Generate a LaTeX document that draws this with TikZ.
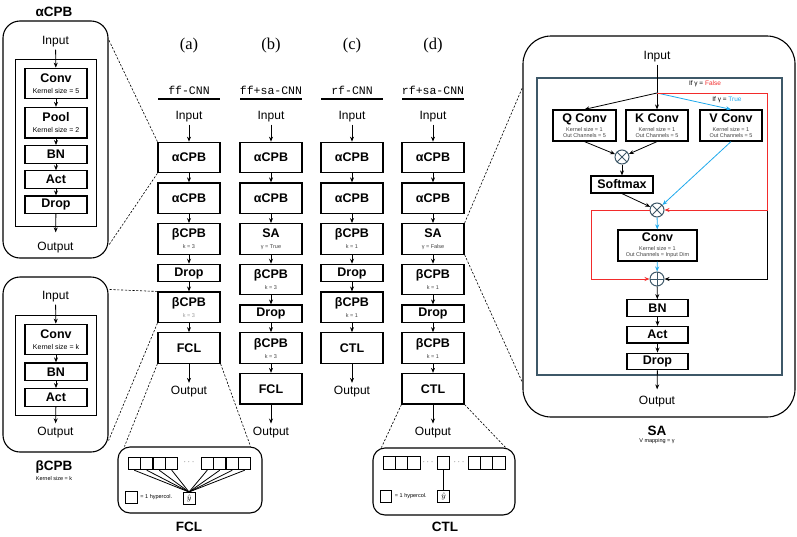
\documentclass[tikz,border=0pt]{standalone}
\usepackage{fontspec}
\setmainfont{Liberation Sans}
\setmonofont{Liberation Mono}
\newfontfamily\tagfont{Liberation Serif}
\usepackage{xcolor}
\definecolor{slate}{HTML}{3E5868}
\definecolor{falsered}{HTML}{F22B2B}
\definecolor{trueblue}{HTML}{1FA9EC}
\usepackage{tikz}
\usetikzlibrary{arrows.meta,positioning,fit,calc}

\newcommand{\subtxt}[1]{{\fontsize{5.5}{6.5}\selectfont\mdseries\color{black!75}#1}}
\newcommand{\kstxt}[1]{{\fontsize{7}{8}\selectfont\mdseries #1}}

\begin{document}
\begin{tikzpicture}[x=1pt,y=-1pt,node distance=9pt,
  blk/.style={draw,line width=1.2pt,minimum width=62pt,minimum height=30.5pt,inner sep=1pt,align=center,font=\fontsize{12.5}{12}\selectfont\bfseries},
  thin/.style={blk,minimum height=17.5pt},
  txt/.style={font=\fontsize{12}{14}\selectfont,inner sep=2pt},
  title/.style={font=\fontsize{13.5}{15}\selectfont\bfseries,inner sep=1pt},
  ar/.style={-{Stealth[length=5pt,width=4pt]},line width=0.8pt},
  zoomline/.style={line width=0.6pt,dash pattern=on 2.2pt off 1.6pt},
  card/.style={draw,line width=1.1pt,rounded corners=17pt},
  frame/.style={draw,line width=1.1pt,inner xsep=8.5pt,inner ysep=8.5pt},
  cell/.style={draw,line width=1pt,minimum size=12.4pt,inner sep=0pt},
  tinytxt/.style={font=\fontsize{5.5}{6.5}\selectfont,inner sep=1pt},
  dotstxt/.style={font=\fontsize{9}{9}\selectfont,text=black!70,inner sep=0pt},
  mulnode/.style={circle,draw=slate,line width=1pt,minimum size=14pt,inner sep=0pt,
    path picture={\draw[slate,line width=0.9pt]
      (path picture bounding box.north west) -- (path picture bounding box.south east)
      (path picture bounding box.north east) -- (path picture bounding box.south west);}},
  addnode/.style={circle,draw=slate,line width=1pt,minimum size=14pt,inner sep=0pt,
    path picture={\draw[slate,line width=0.9pt]
      (path picture bounding box.north) -- (path picture bounding box.south)
      (path picture bounding box.east) -- (path picture bounding box.west);}}
]
\useasboundingbox (0,0) rectangle (797,536);

% the four networks
\foreach \c/\x/\tag/\model in {a/189/a/ff-CNN,b/271/b/ff+sa-CNN,c/352/c/rf-CNN,d/433/d/rf+sa-CNN}{
  \node[font=\tagfont\fontsize{16.5}{18}\selectfont] (tag\c) at (\x,46) {(\tag)};
  \node[font=\ttfamily\fontsize{11.5}{12}\selectfont] (model\c) at (\x,90) {\model};
  \draw[line width=1.6pt] ($(model\c)+(-31,9)$) -- ($(model\c)+(31,9)$);
  \node[txt] (in\c) at (\x,117) {Input};
  \node[blk] (\c1) at (\x,157.5) {αCPB};
  \node[blk,below=of \c1] (\c2) {αCPB};
  \draw[ar] (in\c) -- (\c1);
  \draw[ar] (\c1) -- (\c2);
}
\node[blk,below=of a2] (a3) {βCPB\\[-1pt]\subtxt{k = 3}};
\node[thin,below=of a3] (a4) {Drop};
\node[blk,below=of a4] (a5) {βCPB\\[-1pt]{\fontsize{5.5}{6.5}\selectfont\mdseries\color{black!40}k = 3}};
\node[blk,below=of a5] (a6) {FCL};
\node[txt,below=20pt of a6] (outa) {Output};

\node[blk,below=of b2] (b3) {SA\\[-1pt]\subtxt{γ = True}};
\node[blk,below=of b3] (b4) {βCPB\\[-1pt]\subtxt{k = 3}};
\node[thin,below=of b4] (b5) {Drop};
\node[blk,below=of b5] (b6) {βCPB\\[-1pt]\subtxt{k = 3}};
\node[blk,below=of b6] (b7) {FCL};
\node[txt,below=20pt of b7] (outb) {Output};

\node[blk,below=of c2] (c3) {βCPB\\[-1pt]\subtxt{k = 1}};
\node[thin,below=of c3] (c4) {Drop};
\node[blk,below=of c4] (c5) {βCPB\\[-1pt]\subtxt{k = 1}};
\node[blk,below=of c5] (c6) {CTL};
\node[txt,below=20pt of c6] (outc) {Output};

\node[blk,below=of d2] (d3) {SA\\[-1pt]\subtxt{γ = False}};
\node[blk,below=of d3] (d4) {βCPB\\[-1pt]\subtxt{k = 1}};
\node[thin,below=of d4] (d5) {Drop};
\node[blk,below=of d5] (d6) {βCPB\\[-1pt]\subtxt{k = 1}};
\node[blk,below=of d6] (d7) {CTL};
\node[txt,below=20pt of d7] (outd) {Output};

\foreach \u/\v in {a2/a3,a3/a4,a4/a5,a5/a6,b2/b3,b3/b4,b4/b5,b5/b6,b6/b7,
                   c2/c3,c3/c4,c4/c5,c5/c6,d2/d3,d3/d4,d4/d5,d5/d6,d6/d7}
  \draw[ar] (\u) -- (\v);
\foreach \u/\v in {a6/outa,b7/outb,c6/outc,d7/outd}
  \draw[ar,shorten >=1pt] (\u) -- (\v);

% alpha block
\node[title] (alphat) at (54,12) {αCPB};
\node[card,minimum width=105pt,minimum height=237pt] (acard) at (55.5,139.5) {};
\node[txt] (ain) at (55.5,42) {Input};
\node[blk] (aconv) at (56,83.5) {Conv\\[-1pt]\kstxt{Kernel size = 5}};
\node[blk,below=7.5pt of aconv] (apool) {Pool\\[-1pt]\kstxt{Kernel size = 2}};
\node[thin,below=6.5pt of apool] (abn) {BN};
\node[thin,below=6.5pt of abn] (aact) {Act};
\node[thin,below=6.5pt of aact] (adrop) {Drop};
\node[frame,fit={(aconv)(adrop)([yshift=-4pt]adrop.south)}] (aframe) {};
\node[txt] (aout) at (55.5,248) {Output};
\draw[ar] (ain) -- (aconv);
\foreach \u/\v in {aconv/apool,apool/abn,abn/aact,aact/adrop}
  \draw[ar] (\u) -- (\v);
\draw[ar,shorten >=8pt] (adrop) -- (aout);

% beta block
\node[card,minimum width=105pt,minimum height=175pt] (bcard) at (55.5,364.5) {};
\node[txt] (bin) at (55.5,297) {Input};
\node[blk] (bconv) at (56,339.5) {Conv\\[-1pt]\kstxt{Kernel size = k}};
\node[thin,below=7pt of bconv] (bbn) {BN};
\node[thin,below=7pt of bbn] (bact) {Act};
\node[frame,fit={(bconv)(bact)}] (bframe) {};
\node[txt] (bout) at (55.5,433) {Output};
\draw[ar] (bin) -- (bconv);
\draw[ar] (bconv) -- (bbn);
\draw[ar] (bbn) -- (bact);
\draw[ar,shorten >=2pt] (bact) -- (bout);
\node[title] (betat) at (54,467) {βCPB};
\node[tinytxt] (betak) at (54,479) {Kernel size = k};

% fully connected layer
\node[card,rounded corners=12pt,minimum width=144pt,minimum height=66pt] (fcard) at (190,480) {};
\foreach \i/\x in {1/134.25,2/146.75,3/159.25,4/171.75,5/207.25,6/219.75,7/232.25,8/244.75}
  \node[cell] (fc\i) at (\x,463.5) {};
\node[dotstxt] (fdots) at (189,462) {$\cdots$};
\node[cell,minimum size=12pt] (fyhat) at (189,498.5) {\fontsize{8}{8}\selectfont$\hat{y}$};
\foreach \i in {1,...,8}
  \draw[line width=0.8pt] (fc\i.south) -- (fyhat.north);
\node[cell,minimum size=11.5pt] (fkey) at (131.5,497.5) {};
\node[tinytxt,anchor=west,xshift=1.5pt] (fkeytxt) at (fkey.east) {= 1 hypercol.};
\node[title] (fclt) at (189,527) {FCL};

% convolutional top layer
\node[card,rounded corners=12pt,minimum width=142pt,minimum height=67pt] (ccard) at (444,481.5) {};
\foreach \i/\x in {1/389.2,2/401.5,3/413.8,4/443.5,5/474.2,6/486.5,7/498.8}
  \node[cell] (cc\i) at (\x,463) {};
\node[dotstxt] (cdots1) at (428,462) {$\cdots$};
\node[dotstxt] (cdots2) at (459,462) {$\cdots$};
\node[cell,minimum size=12pt] (cyhat) at (443.5,496) {\fontsize{8}{8}\selectfont$\hat{y}$};
\draw[line width=0.8pt] (cc4.south) -- (cyhat.north);
\node[cell,minimum size=11.5pt] (ckey) at (386,496.5) {};
\node[tinytxt,anchor=west,xshift=1.5pt] (ckeytxt) at (ckey.east) {= 1 hypercol.};
\node[title] (ctlt) at (445,527) {CTL};

% self attention block
\node[card,rounded corners=28pt,minimum width=272pt,minimum height=381pt] (scard) at (659,226.5) {};
\node[draw=slate,line width=1.3pt,minimum width=245pt,minimum height=297pt] (sframe) at (659.5,226.5) {};
\node[txt] (sin) at (657,57) {Input};
\coordinate (split) at (657,93);
\node[blk,minimum width=63pt,minimum height=31pt] (qconv) at (584.5,125.5) {Q Conv\\[-3pt]\subtxt{Kernel size = 1}\\[-6pt]\subtxt{Out Channels = 5}};
\node[blk,minimum height=31pt] (kconv) at (657,125.5) {K Conv\\[-3pt]\subtxt{Kernel size = 1}\\[-6pt]\subtxt{Out Channels = 5}};
\node[blk,minimum height=31pt] (vconv) at (731,125.5) {V Conv\\[-3pt]\subtxt{Kernel size = 1}\\[-6pt]\subtxt{Out Channels = 5}};
\node[mulnode] (mul1) at (622,157) {};
\node[thin,minimum height=17pt] (softmax) at (622,184.5) {Softmax};
\node[mulnode] (mul2) at (657,210) {};
\node[blk,minimum width=79pt,minimum height=31pt] (sconv) at (657.5,245.5) {Conv\\[-3pt]\subtxt{Kernel size = 1}\\[-6pt]\subtxt{Out Channels = Input Dim}};
\node[addnode] (add) at (657,279) {};
\node[thin,minimum width=61pt,minimum height=16.5pt] (sbn) at (657.5,308) {BN};
\node[thin,minimum width=61pt,minimum height=16.5pt,below=of sbn] (sact) {Act};
\node[thin,minimum width=61pt,minimum height=16.5pt,below=of sact] (sdrop) {Drop};
\node[txt] (sout) at (657,402) {Output};
\node[font=\fontsize{6.5}{7}\selectfont,inner sep=1pt] (iffalse) at (705,84) {If γ = \textcolor{falsered}{False}};
\node[font=\fontsize{6.5}{7}\selectfont,inner sep=1pt] (iftrue) at (727,100) {If γ = \textcolor{trueblue}{True}};
\coordinate (rtop) at (767,93);
\coordinate (rmid) at (767,210);
\coordinate (rbot) at (767,279);
\coordinate (lmid) at (591,210);
\coordinate (lbot) at (591,279);

\draw[ar] (sin) -- (kconv);
\draw[ar] (split) -- (qconv.north);
\draw[ar,trueblue] (split) -- (vconv.north);
\draw[ar] (qconv.south) -- (mul1);
\draw[ar] (kconv.south) -- (mul1);
\draw[ar] (mul1) -- (softmax);
\draw[ar] (softmax.south) -- (mul2);
\draw[ar,trueblue] (vconv.south) -- (mul2);
\draw[ar,trueblue] (mul2) -- (sconv);
\draw[ar,trueblue] (sconv) -- (add);
\draw[ar] (split) -- (rtop) -- (rbot) -- (add);
\draw[ar,falsered] (split) -- (rtop) -- (rmid) -- (mul2);
\draw[ar,falsered] (mul2) -- (lmid) -- (lbot) -- (add);
\draw[ar] (add) -- (sbn);
\draw[ar] (sbn) -- (sact);
\draw[ar] (sact) -- (sdrop);
\draw[ar,shorten >=5pt] (sdrop) -- (sout);
\node[title] (sat) at (657,431) {SA};
\node[tinytxt] (samap) at (657,441) {V mapping = γ};

% zoom lines
\draw[zoomline] (a1.north west) -- ([yshift=-19pt]acard.north east);
\draw[zoomline] (a1.south west) -- ([yshift=13pt]acard.south east);
\draw[zoomline] (a5.north west) -- ([yshift=-13pt]bcard.north east);
\draw[zoomline] (a5.south west) -- ([yshift=12pt]bcard.south east);
\draw[zoomline] (a6.south west) -- ([xshift=7pt]fcard.north west);
\draw[zoomline] (a6.south east) -- ([xshift=-12pt]fcard.north east);
\draw[zoomline] (d7.south west) -- ([xshift=9pt]ccard.north west);
\draw[zoomline] (d7.south east) -- ([xshift=-10pt]ccard.north east);
\draw[zoomline] (d3.north east) -- ([yshift=-52pt]scard.north west);
\draw[zoomline] (d3.south east) -- ([yshift=35pt]scard.south west);
\end{tikzpicture}
\end{document}
